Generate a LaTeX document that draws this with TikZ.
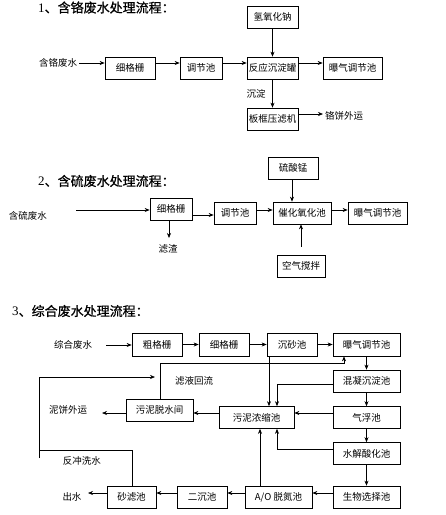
\documentclass[tikz,border=0pt]{standalone}
\usepackage{fontspec}
\setmainfont{Liberation Serif}
\newfontfamily\cjk{Noto Sans CJK SC}
\newfontfamily\cjkt{Noto Sans CJK SC}[FakeBold=0.8]
\usetikzlibrary{arrows.meta}
\begin{document}
\begin{tikzpicture}[x=1pt,y=-1pt,
 box/.style={draw,line width=0.7pt,inner sep=0pt,font=\cjk\fontsize{9.5}{11}\selectfont},
 lbl/.style={inner sep=0pt,font=\cjk\fontsize{9.5}{11}\selectfont},
 ttl/.style={inner sep=0pt,anchor=west,font=\fontsize{13}{15}\selectfont},
 arr/.style={-{Stealth[length=5pt,width=4pt]},line width=0.6pt},
 ln/.style={line width=0.6pt}]
\useasboundingbox (0,0) rectangle (446,515);
% ---------- Section 1 ----------
\node[ttl] (ttl1) at (38,7.5) {1{\cjkt 、含铬废水处理流程：}};
\node[box,minimum width=51pt,minimum height=22pt] (naoh) at (272.5,17) {氢氧化钠};
\node[box,minimum width=50pt,minimum height=22pt] (g1) at (130,68) {细格栅};
\node[box,minimum width=42pt,minimum height=22pt] (t1) at (201,68) {调节池};
\node[box,minimum width=51pt,minimum height=22pt] (r1) at (272.5,68) {反应沉淀罐};
\node[box,minimum width=59pt,minimum height=22pt] (b1) at (352.5,68) {曝气调节池};
\node[box,minimum width=51pt,minimum height=22pt] (p1) at (272.5,119) {板框压滤机};
\node[lbl] (in1) at (58,63) {含铬废水};
\node[lbl] (cd1) at (256,94) {沉淀};
\node[lbl,anchor=west] (out1) at (325,116) {铬饼外运};
\draw[arr,shorten <=2pt] (in1.east) -- ([yshift=5pt]g1.west);
\draw[arr] ([yshift=5pt]g1.east) -- ([yshift=5pt]t1.west);
\draw[arr] ([yshift=5pt]t1.east) -- ([yshift=5pt]r1.west);
\draw[arr] ([yshift=5pt]r1.east) -- ([yshift=5pt]b1.west);
\draw[arr] (naoh.south) -- (r1.north);
\draw[arr] (r1.south) -- (p1.north);
\draw[arr,shorten >=2pt] ([yshift=5pt]p1.east) -- ([yshift=5pt]p1.east -| out1.west);
% ---------- Section 2 ----------
\node[ttl] (ttl2) at (38,181) {2{\cjkt 、含硫废水处理流程：}};
\node[box,minimum width=50pt,minimum height=22pt] (s2) at (293,168) {硫酸锰};
\node[box,minimum width=42pt,minimum height=22pt] (g2) at (171,209) {细格栅};
\node[box,minimum width=42pt,minimum height=22pt] (t2) at (235,213) {调节池};
\node[box,minimum width=58pt,minimum height=22pt] (c2) at (302,213) {催化氧化池};
\node[box,minimum width=59pt,minimum height=22pt] (b2) at (377.5,213) {曝气调节池};
\node[box,minimum width=48pt,minimum height=22pt] (a2) at (301,266) {空气搅拌};
\node[lbl] (in2) at (28,216) {含硫废水};
\node[lbl] (lz) at (168,249) {滤渣};
\coordinate (in2s) at (76,210);
\coordinate (lze) at (169,238);
\draw[arr] (in2s) -- (g2.west |- in2s);
\draw[arr] ([yshift=-6pt]g2.east) -- ([yshift=-6pt]g2.east -| t2.west);
\draw[arr] ([yshift=3pt]t2.east) -- ([yshift=3pt]c2.west);
\draw[arr] ([yshift=3pt]c2.east) -- ([yshift=3pt]b2.west);
\draw[arr] ([xshift=-1pt]s2.south) -- ([xshift=-1pt]s2.south |- c2.north);
\draw[arr] ([yshift=8pt]a2.north) -- (a2.north |- c2.south);
\draw[arr] (g2.south -| lze) -- (lze);
% ---------- Section 3 ----------
\node[ttl] (ttl3) at (12,311) {3{\cjkt 、综合废水处理流程：}};
\node[box,minimum width=50pt,minimum height=23pt] (cg) at (157,344.5) {粗格栅};
\node[box,minimum width=50pt,minimum height=23pt] (xg) at (224,344.5) {细格栅};
\node[box,minimum width=50pt,minimum height=23pt] (cs) at (292,344.5) {沉砂池};
\node[box,minimum width=67pt,minimum height=23pt] (bq) at (366.5,344.5) {曝气调节池};
\node[box,minimum width=67pt,minimum height=22pt] (hn) at (366.5,381) {混凝沉淀池};
\node[box,minimum width=67pt,minimum height=22pt] (qf) at (366.5,417.5) {气浮池};
\node[box,minimum width=67pt,minimum height=22pt] (sj) at (366.5,453.5) {水解酸化池};
\node[box,minimum width=67pt,minimum height=22pt] (sw) at (366.5,497) {生物选择池};
\node[box,minimum width=67pt,minimum height=22pt] (ao) at (278.5,497) {A/O 脱氮池};
\node[box,minimum width=50pt,minimum height=22pt] (ec) at (202,497) {二沉池};
\node[box,minimum width=49pt,minimum height=22pt] (sl) at (131.5,497) {砂滤池};
\node[box,minimum width=75pt,minimum height=22pt] (ns) at (256.5,417.5) {污泥浓缩池};
\node[box,minimum width=67pt,minimum height=22pt] (ts) at (159.5,410) {污泥脱水间};
\node[lbl] (in3) at (73,345) {综合废水};
\node[lbl] (mb) at (68,410) {泥饼外运};
\node[lbl] (out3) at (72,497) {出水};
\node[lbl] (lyhl) at (194,381) {滤液回流};
\node[lbl] (fcx) at (82,461) {反冲洗水};
\coordinate (in3s) at (106,345);
\coordinate (mbe) at (102,413);
\coordinate (oute) at (88,493);
\coordinate (ry) at (0,363);
\coordinate (fc1) at (39,450);
\coordinate (fcb) at (39,458);
\coordinate (fc2) at (155,377);
\draw[arr] (in3s) -- (cg.west |- in3s);
\draw[arr] (cg.east) -- (xg.west);
\draw[arr] (xg.east) -- (cs.west);
\draw[arr] (cs.east) -- (bq.west);
\draw[arr] (bq.south) -- (hn.north);
\draw[arr] (hn.south) -- (qf.north);
\draw[arr] (qf.south) -- (sj.north);
\draw[arr] (sj.south) -- (sw.north);
\draw[arr] ([yshift=4pt]sw.west) -- ([yshift=4pt]ao.east);
\draw[arr] ([yshift=4pt]ao.west) -- ([yshift=4pt]ec.east);
\draw[arr] ([yshift=4pt]ec.west) -- ([yshift=4pt]sl.east);
\draw[arr] ([yshift=4pt]sl.west) -- (oute);
\draw[arr] ([xshift=-18.5pt]ao.north) -- ([xshift=-18.5pt]ao.north |- ns.south);
\draw[arr] ([yshift=4.5pt]qf.west) -- ([yshift=4.5pt]qf.west -| ns.east);
\draw[arr] ([yshift=4.5pt]ns.west) -- ([yshift=4.5pt]ns.west -| ts.east);
\draw[arr] ([yshift=-3pt]ts.west) -- (mbe);
\draw[arr] ([xshift=-23pt]cs.south) -- ([xshift=-23pt]cs.south |- ns.north);
\draw[arr] ([yshift=-3pt]hn.west) -| ([xshift=20.5pt]ns.north);
\draw[arr] ([yshift=4.5pt]sj.west) -| ([xshift=20.5pt]ns.south);
\draw[arr] ([xshift=0.5pt]ts.north) -- ([xshift=0.5pt]ts.north |- ry) -| ([xshift=-22.5pt]bq.south);
\draw[ln] ([xshift=0.5pt]sl.north) |- (fc1);
\draw[arr] (fcb) -- (fc1 |- fc2) -- (fc2);
\end{tikzpicture}
\end{document}
